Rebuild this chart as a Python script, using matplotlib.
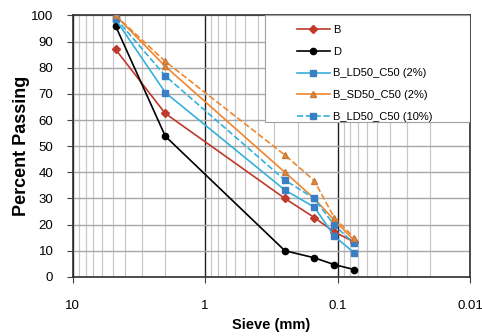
import numpy as np
import matplotlib
matplotlib.use('Agg')
import matplotlib.pyplot as plt
from matplotlib.patches import Rectangle
from matplotlib.ticker import LogLocator, FixedLocator, NullFormatter

plt.rcParams['font.family'] = ['Liberation Sans', 'DejaVu Sans']

# sieve sizes (mm)
sieve = [4.75, 2.0, 0.25, 0.15, 0.106, 0.075]

# percent passing for each mix
B = [87, 62.5, 30, 22.7, 17.2, 13.4]
D = [96, 53.8, 10, 7.3, 4.7, 2.8]
B_LD50_2 = [98.5, 70.5, 33.2, 26.7, 15.6, 9.2]
B_SD50_2 = [100, 80.5, 40, 30, 21.7, 14]
B_LD50_10 = [99, 76.9, 37, 30, 19.8, 12.8]
B_SD50_10 = [100, 82.4, 46.6, 36.8, 22.7, 15]

fig = plt.figure(figsize=(4.82, 3.36), dpi=100)
ax = fig.add_axes([0.151, 0.176, 0.824, 0.778])

ax.plot(sieve, B, color='#C0392B', marker='D', ms=4, lw=1.2, label='B', zorder=3)
ax.plot(sieve, D, color='black', marker='o', ms=4.5, lw=1.2, label='D', zorder=3)
ax.plot(sieve, B_LD50_2, color='#35B0DC', marker='s', ms=4, mfc='#3A7FC4', mec='#3A7FC4',
        lw=1.2, label='B_LD50_C50 (2%)', zorder=3)
ax.plot(sieve, B_SD50_2, color='#F0862E', marker='^', ms=4.5, mfc='#E0883A', mec='#C87A3A',
        lw=1.2, label='B_SD50_C50 (2%)', zorder=3)
ax.plot(sieve, B_LD50_10, color='#35B0DC', ls='--', marker='s', ms=4, mfc='#3A7FC4', mec='#3A7FC4',
        lw=1.2, label='B_LD50_C50 (10%)', zorder=3)
ax.plot(sieve, B_SD50_10, color='#F0862E', ls='--', marker='^', ms=4.5, mfc='#E0883A', mec='#C87A3A',
        lw=1.2, zorder=3)

ax.set_xscale('log')
ax.set_xlim(10, 0.01)
ax.set_ylim(0, 100)
ax.set_yticks(np.arange(0, 101, 10))
ax.xaxis.set_major_locator(FixedLocator([10, 1, 0.1, 0.01]))
ax.set_xticklabels(['10', '1', '0.1', '0.01'])
ax.xaxis.set_minor_locator(LogLocator(base=10, subs=np.arange(2, 10)))
ax.xaxis.set_minor_formatter(NullFormatter())

ax.grid(True, which='minor', axis='x', color='#C8C8C8', lw=0.9)
ax.grid(True, which='major', axis='x', color='#202020', lw=1.0)
ax.grid(True, which='major', axis='y', color='#A8A8A8', lw=1.0)
ax.tick_params(axis='both', which='major', labelsize=9.5, length=4, color='#404040')
ax.tick_params(axis='y', pad=10)
ax.tick_params(axis='x', pad=13)
ax.tick_params(axis='x', which='minor', length=0)
for s in ax.spines.values():
    s.set_color('#303030')
    s.set_linewidth(1.2)

ax.set_ylabel('Percent Passing', fontsize=13, fontweight='bold', va='center')
ax.set_xlabel('Sieve (mm)', fontsize=10.5, fontweight='bold', va='center')
ax.yaxis.set_label_coords(-0.128, 0.5)
ax.xaxis.set_label_coords(0.5, -0.185)

# legend frame drawn separately so it can be wider than its entries
ax.add_patch(Rectangle((0.484, 0.593), 0.516, 0.407, transform=ax.transAxes,
                       facecolor='white', edgecolor='#A0A0A0', lw=0.8, zorder=4))
leg = ax.legend(loc='upper left', bbox_to_anchor=(0.564, 0.963), borderaxespad=0, fontsize=8,
                handlelength=3.0, handletextpad=0.3, labelspacing=1.05, borderpad=0,
                frameon=False)
leg.set_zorder(5)

fig.savefig('out.png', dpi=100)
